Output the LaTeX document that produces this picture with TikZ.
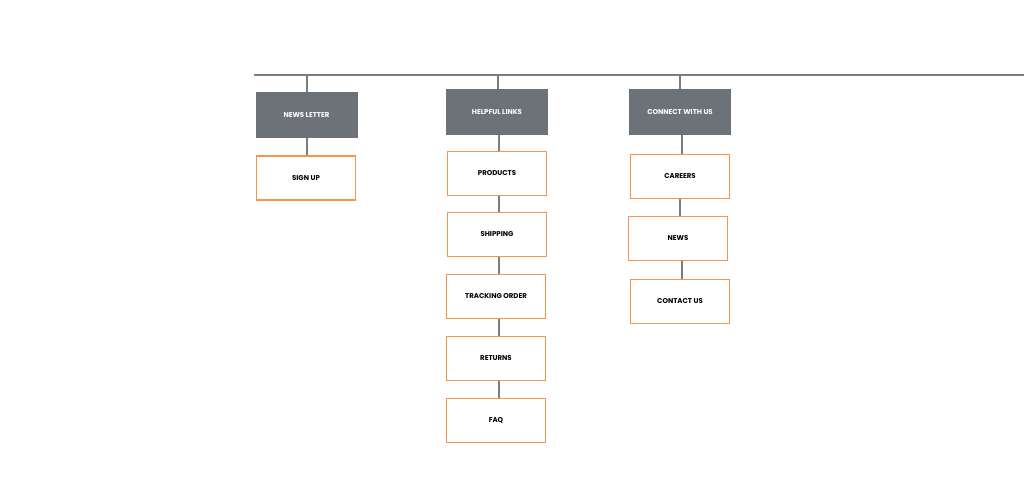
\documentclass[tikz,border=0pt]{standalone}
\usepackage{fontspec}
\setmainfont{Poppins}
\begin{document}
\begin{tikzpicture}[x=1pt,y=-1pt,
  head/.style={fill=hg,draw=none,text=white,font=\bfseries\fontsize{7}{8}\selectfont,inner sep=0pt},
  leaf/.style={draw=or,line width=1.3pt,fill=white,text=black,font=\bfseries\fontsize{7}{8}\selectfont,inner sep=0pt},
  con/.style={draw=lg,line width=1.3pt}]
\definecolor{hg}{HTML}{6D7278}
\definecolor{or}{HTML}{F7934C}
\definecolor{lg}{HTML}{7A7E84}
\useasboundingbox (0,0) rectangle (1024,485);
\coordinate (l0) at (254,75);
\coordinate (l1) at (1024,75);
\draw[con,line width=2.5pt] (l0) -- (l1);
\node[head,minimum width=102pt,minimum height=46pt] (nl) at (306.5,115) {NEWS LETTER};
\node[head,minimum width=102pt,minimum height=46pt] (hl) at (497,112) {HELPFUL LINKS};
\node[head,minimum width=102pt,minimum height=46pt] (cw) at (680,112) {CONNECT WITH US};
\coordinate (t1) at (307,75); \coordinate (t2) at (498,75); \coordinate (t3) at (680,75);
\draw[con] (t1) -- (t1|-nl.north);
\draw[con] (t2) -- (t2|-hl.north);
\draw[con] (t3) -- (t3|-cw.north);
\tikzset{lf/.style={leaf,minimum width=99pt,minimum height=44pt}}
\node[lf] (su) at (306,178) {SIGN UP};
\node[lf] (p) at (497,173.5) {PRODUCTS};
\node[lf] (s) at (497,234.5) {SHIPPING};
\node[lf] (t) at (496,296.5) {TRACKING ORDER};
\node[lf] (r) at (496,358.5) {RETURNS};
\node[lf] (f) at (496,420.5) {FAQ};
\node[lf] (c) at (680,176.5) {CAREERS};
\node[lf] (n) at (678,238.5) {NEWS};
\node[lf] (cu) at (680,301.5) {CONTACT US};
\draw[con] (307,138) -- (su.north-|307,0);
\draw[con] (hl.south-|499,0) -- (p.north-|499,0);
\draw[con] (p.south-|499,0) -- (s.north-|499,0);
\draw[con] (s.south-|499,0) -- (t.north-|499,0);
\draw[con] (t.south-|499,0) -- (r.north-|499,0);
\draw[con] (r.south-|499,0) -- (f.north-|499,0);
\draw[con] (cw.south-|682,0) -- (c.north-|682,0);
\draw[con] (c.south-|680,0) -- (n.north-|680,0);
\draw[con] (n.south-|682,0) -- (cu.north-|682,0);
\end{tikzpicture}
\end{document}
